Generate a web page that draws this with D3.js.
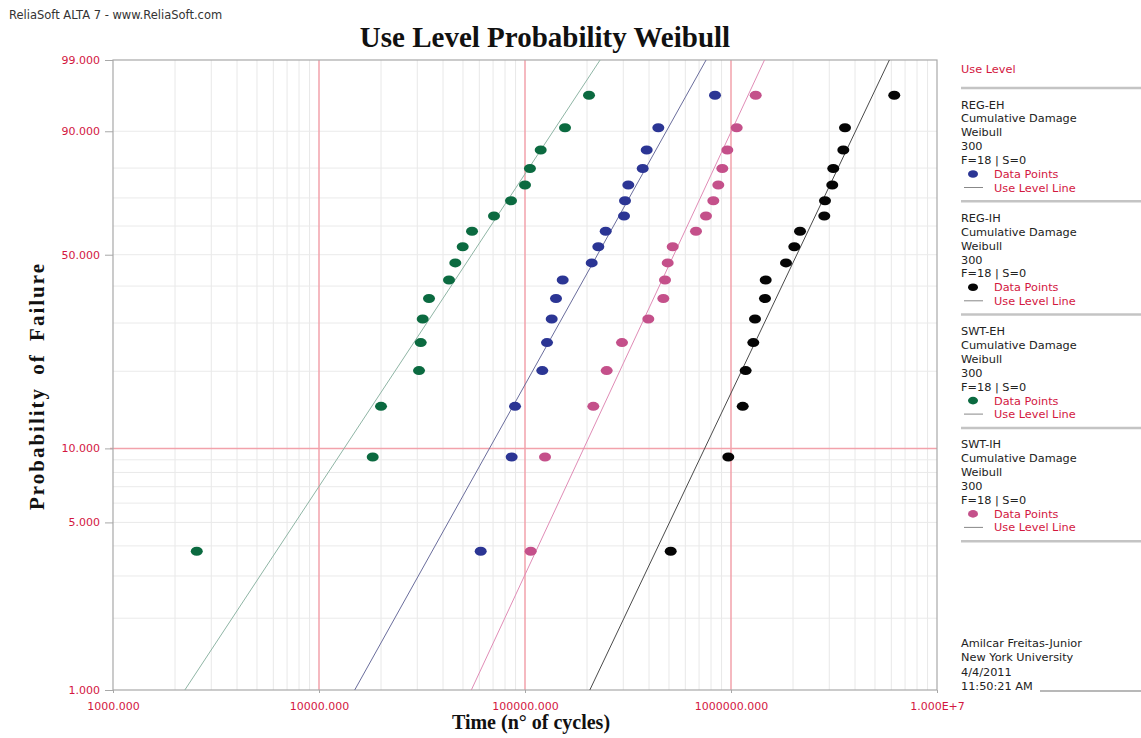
<!DOCTYPE html>
<html>
<head>
<meta charset="utf-8">
<script src="https://cdn.jsdelivr.net/npm/d3@7"></script>
<style>
body { margin: 0; background: #fff; }
svg { display: block; }
</style>
</head>
<body>
<div id="chart"></div>
<script>
var unreliability = [3.80, 9.24, 14.67, 20.11, 25.54, 30.98, 36.41, 41.85, 47.28,
  52.72, 58.15, 63.59, 69.02, 74.46, 79.89, 85.33, 90.76, 96.20];

// failure times (cycles) for each data set
var regEhTimes = [60950, 86150, 89430, 121300, 127900, 134800, 141400, 152400, 210800,
  226900, 246500, 302500, 305800, 317300, 372700, 389800, 443800, 836300];
var regIhTimes = [509700, 970300, 1140000, 1178000, 1283000, 1308000, 1462000, 1474000, 1849000,
  2029000, 2163000, 2837000, 2859000, 3102000, 3137000, 3509000, 3576000, 6203000];
var swtEhTimes = [2550, 18230, 20000, 30590, 31170, 31870, 34200, 42760, 45880,
  49840, 55300, 70700, 85500, 100000, 105700, 119200, 156400, 204500];
var swtIhTimes = [106600, 125100, 214600, 249200, 295700, 396800, 469400, 478300, 492900,
  521200, 676100, 756000, 820700, 867600, 907500, 959500, 1066000, 1318000];

var seriesNames = ["REG-EH", "REG-IH", "SWT-EH", "SWT-IH"];
var seriesTimes = [regEhTimes, regIhTimes, swtEhTimes, swtIhTimes];
// use level line (Weibull fit) parameters
var betas = [1.56, 1.83, 1.32, 1.87];
var etas = [284400, 2549000, 72800, 642500];

var dotColors = ["#2b3594", "#050505", "#0b6a40", "#c4508a"];
var lineColors = ["#6a6d9c", "#4a4a4a", "#8fb5a5", "#e08cb6"];

var xTicks = [1000, 10000, 100000, 1000000, 10000000];
var xTickLabels = ["1000.000", "10000.000", "100000.000", "1000000.000", "1.000E+7"];
var yTicks = [1, 5, 10, 50, 90, 99];
var yTickLabels = ["1.000", "5.000", "10.000", "50.000", "90.000", "99.000"];
var yGrid = [2, 3, 4, 5, 6, 7, 8, 9, 20, 30, 40, 50, 60, 70, 80, 90];

var width = 1141, height = 738;
var pLeft = 113, pRight = 937, pTop = 60, pBottom = 690;
var red = "#d3173f";
var gridRed = "#f2a2ab";

function wb(p) { return Math.log(-Math.log(1 - p / 100)); }

var svg = d3.select("#chart").append("svg").attr("width", width).attr("height", height);

var x = d3.scaleLog().domain([1000, 1e7]).range([pLeft, pRight]);
var y = d3.scaleLinear().domain([wb(1), wb(99)]).range([pBottom, pTop]);

// grid
var grid = svg.append("g");
grid.selectAll(".vminor").data(x.ticks().filter(function(d) { return xTicks.indexOf(d) < 0; }))
  .enter().append("line")
  .attr("x1", function(d) { return x(d); }).attr("x2", function(d) { return x(d); })
  .attr("y1", pTop).attr("y2", pBottom)
  .attr("stroke", "#e8e8e8").attr("stroke-width", 1);
grid.selectAll(".hminor").data(yGrid.filter(function(d) { return d != 10; }))
  .enter().append("line")
  .attr("x1", pLeft).attr("x2", pRight)
  .attr("y1", function(d) { return y(wb(d)); }).attr("y2", function(d) { return y(wb(d)); })
  .attr("stroke", "#eaeaea").attr("stroke-width", 1);
grid.selectAll(".vmajor").data(xTicks.slice(1, 4))
  .enter().append("line")
  .attr("x1", function(d) { return x(d); }).attr("x2", function(d) { return x(d); })
  .attr("y1", pTop).attr("y2", pBottom)
  .attr("stroke", gridRed).attr("stroke-width", 1.5);
grid.append("line")
  .attr("x1", pLeft - 3).attr("x2", pRight)
  .attr("y1", y(wb(10))).attr("y2", y(wb(10)))
  .attr("stroke", gridRed).attr("stroke-width", 1.5);

// frame
svg.append("rect").attr("x", pLeft).attr("y", pTop)
  .attr("width", pRight - pLeft).attr("height", pBottom - pTop)
  .attr("fill", "none").attr("stroke", "#a8a8a8").attr("stroke-width", 1.2);

// axes
var xAxis = d3.axisBottom(x).tickValues(xTicks)
  .tickFormat(function(d, i) { return xTickLabels[i]; }).tickSize(3);
var gx = svg.append("g").attr("transform", "translate(0," + pBottom + ")").call(xAxis);
gx.select(".domain").remove();
gx.selectAll("line").attr("stroke", "#a8a8a8");
gx.selectAll("text").attr("fill", red).attr("font-family", "DejaVu Sans")
  .attr("font-size", 11).attr("dy", "1.25em");

var yAxis = d3.axisLeft(y).tickValues(yTicks.map(wb))
  .tickFormat(function(d, i) { return yTickLabels[i]; }).tickSize(8);
var gy = svg.append("g").attr("transform", "translate(" + pLeft + ",0)").call(yAxis);
gy.select(".domain").remove();
gy.selectAll("line").attr("stroke", "#a8a8a8");
gy.selectAll("text").attr("fill", red).attr("font-family", "DejaVu Sans")
  .attr("font-size", 11).attr("x", -13);

// use level lines
var clip = svg.append("clipPath").attr("id", "plotclip");
clip.append("rect").attr("x", pLeft).attr("y", pTop).attr("width", pRight - pLeft).attr("height", pBottom - pTop);

var lineGen = d3.line()
  .x(function(d) { return x(d.t); })
  .y(function(d) { return y(wb(d.p)); });

seriesNames.forEach(function(name, k) {
  var ends = [1, 99].map(function(p) {
    return { p: p, t: etas[k] * Math.pow(-Math.log(1 - p / 100), 1 / betas[k]) };
  });
  svg.append("path").datum(ends)
    .attr("clip-path", "url(#plotclip)")
    .attr("d", lineGen)
    .attr("fill", "none")
    .attr("stroke", lineColors[k]).attr("stroke-width", 1);
});

// data points
seriesNames.forEach(function(name, k) {
  svg.append("g").selectAll("ellipse").data(seriesTimes[k])
    .enter().append("ellipse")
    .attr("cx", function(d) { return x(d); })
    .attr("cy", function(d, i) { return y(wb(unreliability[i])); })
    .attr("rx", 6).attr("ry", 4.5)
    .attr("fill", dotColors[k]);
});

// titles
svg.append("text").attr("x", 9).attr("y", 19)
  .attr("font-family", "DejaVu Sans").attr("font-size", 11.5).attr("fill", "#333")
  .text("ReliaSoft ALTA 7 - www.ReliaSoft.com");
svg.append("text").attr("x", 545).attr("y", 47).attr("text-anchor", "middle")
  .attr("font-family", "Liberation Serif").attr("font-weight", "bold")
  .attr("font-size", 29).attr("fill", "#111")
  .text("Use Level Probability Weibull");
svg.append("text").attr("x", 531).attr("y", 729).attr("text-anchor", "middle")
  .attr("font-family", "Liberation Serif").attr("font-weight", "bold")
  .attr("font-size", 20).attr("fill", "#111")
  .text("Time (n\u00b0 of cycles)");
svg.append("text").attr("transform", "translate(44,386) rotate(-90)").attr("text-anchor", "middle")
  .attr("font-family", "Liberation Serif").attr("font-weight", "bold")
  .attr("font-size", 21).attr("fill", "#111")
  .attr("letter-spacing", 2).attr("word-spacing", 5)
  .text("Probability of Failure");

// legend
var lg = svg.append("g").attr("font-family", "DejaVu Sans").attr("font-size", 11.3);
lg.append("text").attr("x", 961).attr("y", 72.5).attr("fill", red).text("Use Level");
var blockH = 113.3;
seriesNames.forEach(function(name, k) {
  var s = 88 + k * blockH;
  lg.append("line").attr("x1", 961).attr("x2", 1141).attr("y1", s).attr("y2", s)
    .attr("stroke", "#c4c4c4").attr("stroke-width", 2.5);
  var lines = [name, "Cumulative Damage", "Weibull", "300", "F=18 | S=0"];
  lines.forEach(function(t, j) {
    lg.append("text").attr("x", 961).attr("y", s + 20.5 + j * 13.9).attr("fill", "#222").text(t);
  });
  lg.append("ellipse").attr("cx", 973).attr("cy", s + 86).attr("rx", 5).attr("ry", 3.8)
    .attr("fill", dotColors[k]);
  lg.append("text").attr("x", 994).attr("y", s + 90).attr("fill", red).text("Data Points");
  lg.append("line").attr("x1", 964).attr("x2", 983).attr("y1", s + 99.5).attr("y2", s + 99.5)
    .attr("stroke", "#888").attr("stroke-width", 1);
  lg.append("text").attr("x", 994).attr("y", s + 103.5).attr("fill", red).text("Use Level Line");
});
lg.append("line").attr("x1", 961).attr("x2", 1141).attr("y1", 88 + 4 * blockH).attr("y2", 88 + 4 * blockH)
  .attr("stroke", "#c4c4c4").attr("stroke-width", 2.5);

["Amilcar Freitas-Junior", "New York University", "4/4/2011", "11:50:21 AM"].forEach(function(t, j) {
  lg.append("text").attr("x", 961).attr("y", 647 + j * 14.4).attr("fill", "#222").text(t);
});
lg.append("line").attr("x1", 1040).attr("x2", 1141).attr("y1", 691).attr("y2", 691)
  .attr("stroke", "#b8b8b8").attr("stroke-width", 2);
</script>
</body>
</html>
